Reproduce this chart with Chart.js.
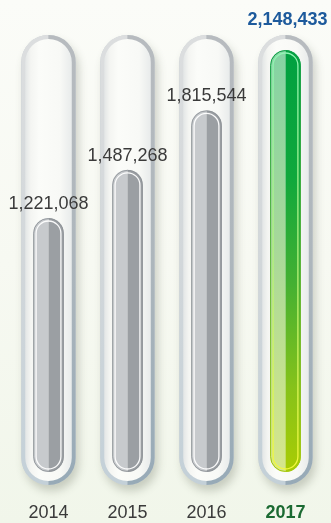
<!DOCTYPE html>
<html>
<head>
<meta charset="utf-8">
<script src="https://cdn.jsdelivr.net/npm/chart.js@4/dist/chart.umd.min.js"></script>
<style>
  html, body { margin: 0; padding: 0; }
  body { width: 331px; height: 523px; overflow: hidden;
         background: linear-gradient(180deg, #fbfcf8 0%, #f7f9f2 50%, #f1f6ea 100%); }
  #wrap { position: relative; width: 331px; height: 523px; }
  canvas { display: block; }
</style>
</head>
<body>
<div id="wrap"><canvas id="chart" width="331" height="523"></canvas></div>
<script>
// Yearly totals shown as glass thermometer tubes
const years = ['2014', '2015', '2016', '2017'];
const totals = [1221068, 1487268, 1815544, 2148433];
const highlightIndex = 3;          // latest year drawn in green
// value range of the plot area (columns rise from below zero so the base sits inside the tube)
const Y_MIN = -181000;
const Y_MAX = 2225700;

const fmt = v => v.toLocaleString('en-US');

function pillPath(ctx, cx, top, bottom, w) {
  const r = w / 2;
  ctx.beginPath();
  ctx.moveTo(cx - r, bottom - r);
  ctx.lineTo(cx - r, top + r);
  ctx.arc(cx, top + r, r, Math.PI, 0);
  ctx.lineTo(cx + r, bottom - r);
  ctx.arc(cx, bottom - r, r, 0, Math.PI);
  ctx.closePath();
}

function vGrad(ctx, top, bottom, stops) {
  const g = ctx.createLinearGradient(0, top, 0, bottom);
  stops.forEach(([o, c]) => g.addColorStop(o, c));
  return g;
}

// glass tubes behind every bar
const tubePlugin = {
  id: 'tubes',
  beforeDatasetsDraw(chart) {
    const ctx = chart.ctx;
    const area = chart.chartArea;
    const meta = chart.getDatasetMeta(0);
    const top = area.top - 1;
    const bottom = area.bottom + 13;
    meta.data.forEach(bar => {
      const cx = bar.x;
      const w = bar.width * 1.77;
      // soft drop shadow
      ctx.save();
      ctx.shadowColor = 'rgba(70,80,60,0.25)';
      ctx.shadowBlur = 9;
      ctx.shadowOffsetX = 3;
      ctx.shadowOffsetY = 6;
      pillPath(ctx, cx, top, bottom, w);
      ctx.fillStyle = '#c8ced2';
      ctx.fill();
      ctx.restore();
      // rim: light left half, darker right half
      ctx.save();
      pillPath(ctx, cx, top, bottom, w);
      ctx.clip();
      ctx.fillStyle = vGrad(ctx, top, bottom, [[0, '#dcdedf'], [0.5, '#d2d7da'], [1, '#c3d0d8']]);
      ctx.fillRect(cx - w / 2, top, w / 2, bottom - top);
      ctx.fillStyle = vGrad(ctx, top, bottom, [[0, '#b7bbbf'], [0.5, '#adb6bc'], [1, '#97aab7']]);
      ctx.fillRect(cx, top, w / 2, bottom - top);
      // glass interior
      const inset = 4;
      const g = ctx.createLinearGradient(cx - w / 2 + inset, 0, cx + w / 2 - inset, 0);
      g.addColorStop(0, '#e3e6e6');
      g.addColorStop(0.12, '#f4f5f2');
      g.addColorStop(0.3, '#fbfcf9');
      g.addColorStop(0.75, '#f8f9f6');
      g.addColorStop(1, '#e8ebeb');
      pillPath(ctx, cx, top + inset, bottom - inset, w - inset * 2);
      ctx.fillStyle = g;
      ctx.fill();
      ctx.restore();
    });
  }
};

// liquid columns painted from the bar elements
const liquidPlugin = {
  id: 'liquid',
  afterDatasetsDraw(chart) {
    const ctx = chart.ctx;
    const meta = chart.getDatasetMeta(0);
    meta.data.forEach((bar, i) => {
      const { x, y, base, width } = bar.getProps(['x', 'y', 'base', 'width'], true);
      const hi = i === highlightIndex;
      ctx.save();
      pillPath(ctx, x, y, base, width);
      ctx.clip();
      if (hi) {
        ctx.fillStyle = vGrad(ctx, y, base, [[0, '#84d3a3'], [0.45, '#a6d89a'], [0.8, '#c6e28e'], [1, '#d6e68c']]);
        ctx.fillRect(x - width / 2, y, width / 2, base - y);
        ctx.fillStyle = vGrad(ctx, y, base, [[0, '#00a040'], [0.3, '#0fa83c'], [0.55, '#43b032'], [0.8, '#86c21a'], [1, '#a9cc04']]);
        ctx.fillRect(x, y, width / 2, base - y);
      } else {
        ctx.fillStyle = '#c7cacd';
        ctx.fillRect(x - width / 2, y, width / 2, base - y);
        ctx.fillStyle = '#9b9fa3';
        ctx.fillRect(x, y, width / 2, base - y);
      }
      ctx.restore();
      // outer edge
      ctx.save();
      pillPath(ctx, x, y + 0.5, base - 0.5, width - 1);
      ctx.lineWidth = 1;
      ctx.strokeStyle = hi ? vGrad(ctx, y, base, [[0, '#10a048'], [0.5, '#5ab43a'], [1, '#a6c810']]) : 'rgba(140,145,150,0.8)';
      ctx.stroke();
      // inner highlight line
      pillPath(ctx, x, y + 3, base - 3, width - 6);
      ctx.lineWidth = 1.3;
      ctx.strokeStyle = hi ? vGrad(ctx, y, base, [[0, '#8ff5b4'], [0.5, '#b4f27c'], [1, '#f4f83c']]) : 'rgba(255,255,255,0.95)';
      ctx.stroke();
      ctx.restore();
    });
  }
};

// value labels above the columns and year labels below the tubes
const labelPlugin = {
  id: 'labels',
  afterDraw(chart) {
    const ctx = chart.ctx;
    const meta = chart.getDatasetMeta(0);
    ctx.save();
    ctx.textAlign = 'center';
    ctx.textBaseline = 'alphabetic';
    meta.data.forEach((bar, i) => {
      const hi = i === highlightIndex;
      if (hi) {
        ctx.font = 'bold 18px "Liberation Sans", Arial, sans-serif';
        ctx.fillStyle = '#1d5a9c';
        ctx.fillText(fmt(totals[i]), bar.x + 2, 25);
      } else {
        ctx.font = '18px "Liberation Sans", Arial, sans-serif';
        ctx.fillStyle = '#3a3a3a';
        ctx.fillText(fmt(totals[i]), bar.x, bar.y - 9);
      }
      ctx.font = (hi ? 'bold ' : '') + '18px "Liberation Sans", Arial, sans-serif';
      ctx.fillStyle = hi ? '#1b6a32' : '#3a3a3a';
      ctx.fillText(years[i], bar.x, 518);
    });
    ctx.restore();
  }
};

new Chart(document.getElementById('chart'), {
  type: 'bar',
  data: {
    labels: years,
    datasets: [{
      data: totals,
      base: Y_MIN,
      backgroundColor: 'rgba(0,0,0,0)',
      borderWidth: 0,
      categoryPercentage: 1,
      barPercentage: 0.39
    }]
  },
  options: {
    responsive: false,
    animation: false,
    devicePixelRatio: 1,
    layout: { padding: { left: 9, right: 6, top: 36, bottom: 51 } },
    plugins: { legend: { display: false }, tooltip: { enabled: false } },
    scales: {
      x: { display: false },
      y: { display: false, min: Y_MIN, max: Y_MAX }
    }
  },
  plugins: [tubePlugin, liquidPlugin, labelPlugin]
});
</script>
</body>
</html>
